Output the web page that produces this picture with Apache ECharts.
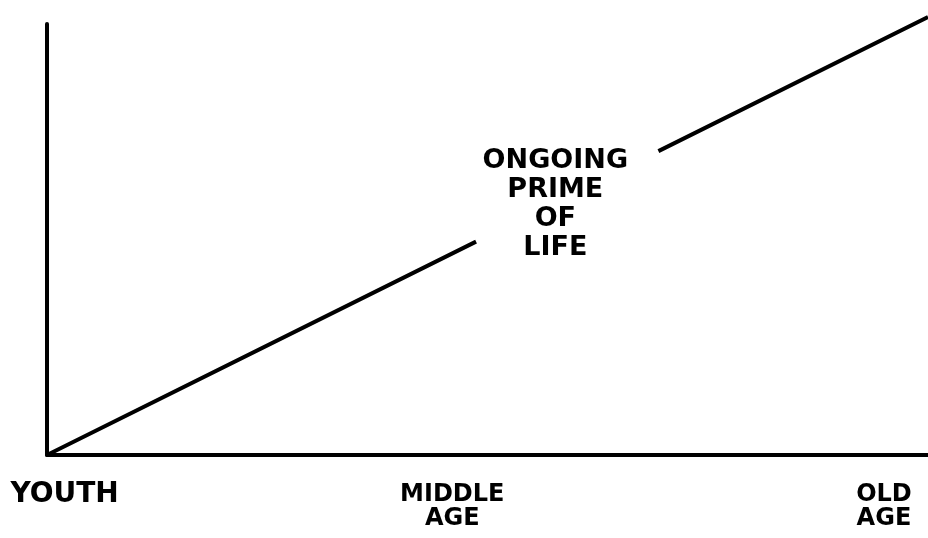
<!DOCTYPE html>
<html>
<head>
<meta charset="utf-8">
<script src="https://cdn.jsdelivr.net/npm/echarts@6/dist/echarts.min.js"></script>
<style>
  html, body { margin: 0; padding: 0; background: #fff; }
  #main { width: 928px; height: 538px; }
</style>
</head>
<body>
<div id="main"></div>
<script>
// life stages along the bottom, at their position on a 0-100 scale
var stageNames = ['YOUTH', 'MIDDLE\nAGE', 'OLD\nAGE'];
var stageAt = [2, 46, 95];

// the rising line, broken where the note sits
var primeX = [0, 48.7, 59, 69.4, 100];
var primeY = [0, 49.5, '-', 70.5, 101.6];

// note written in the gap
var noteText = 'ONGOING\nPRIME\nOF\nLIFE';
var noteAt = [57.7, 58.2];

var ink = '#000';
var font = '"DejaVu Sans", sans-serif';

var chart = echarts.init(document.getElementById('main'));

chart.setOption({
  animation: false,
  grid: { left: 47, right: 0, top: 24, bottom: 83 },
  xAxis: {
    type: 'value',
    min: 0,
    max: 100,
    axisLine: { lineStyle: { color: ink, width: 4 } },
    axisTick: { show: false },
    splitLine: { show: false },
    axisLabel: {
      customValues: stageAt,
      formatter: function (v) {
        var name = stageNames[stageAt.indexOf(v)];
        // youth is lettered a bit bigger in the drawing
        return name === 'YOUTH' ? '{big|' + name + '}' : name;
      },
      color: ink,
      fontFamily: font,
      fontWeight: 'bold',
      fontSize: 24,
      lineHeight: 24,
      margin: 28,
      rich: {
        big: {
          color: ink,
          fontFamily: font,
          fontWeight: 'bold',
          fontSize: 28,
          padding: [0, 0, 0, 0]
        }
      }
    }
  },
  yAxis: {
    type: 'value',
    min: 0,
    max: 100,
    axisLine: { show: true, lineStyle: { color: ink, width: 4 } },
    axisTick: { show: false },
    axisLabel: { show: false },
    splitLine: { show: false }
  },
  series: [{
    type: 'line',
    clip: false,
    symbol: 'none',
    connectNulls: false,
    lineStyle: { color: ink, width: 4 },
    data: primeX.map(function (x, i) { return [x, primeY[i]]; }),
    markPoint: {
      symbol: 'circle',
      symbolSize: 0,
      data: [{ coord: noteAt }],
      label: {
        show: true,
        position: 'inside',
        formatter: noteText,
        color: ink,
        fontFamily: font,
        fontWeight: 'bold',
        fontSize: 27,
        lineHeight: 29,
        align: 'center'
      }
    }
  }]
});
</script>
</body>
</html>
